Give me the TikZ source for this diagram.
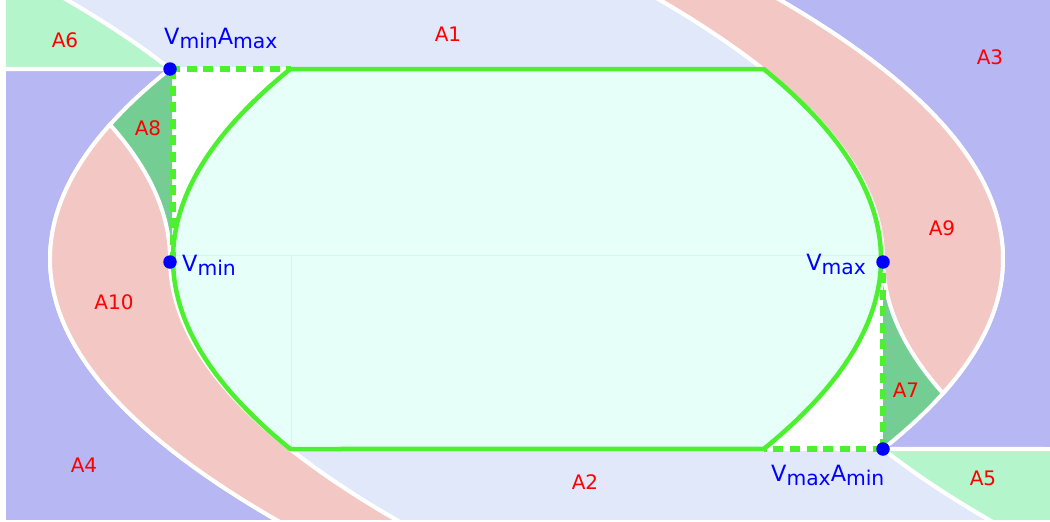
\documentclass[tikz,border=0pt]{standalone}
\usepackage{fontspec}
\setmainfont{DejaVu Sans}
\definecolor{lblue}{HTML}{E0E8FA}
\definecolor{purp}{HTML}{B7B7F4}
\definecolor{mint}{HTML}{B4F5CC}
\definecolor{mgreen}{HTML}{74CD92}
\definecolor{pinkr}{HTML}{F3C7C3}
\definecolor{cyanf}{HTML}{E6FFF8}
\definecolor{gline}{HTML}{4CF02E}
\definecolor{faintc}{HTML}{D2F8EC}
\newcommand\lsub[1]{\raisebox{-4pt}{\fontsize{20.3}{22}\selectfont #1}}
\begin{document}
\begin{tikzpicture}[x=1pt,y=-1pt,
  region/.style={fill=#1,draw=white,line width=4pt},
  rlabel/.style={text=red,font=\fontsize{20}{22}\selectfont,inner sep=0pt},
  blabel/.style={text=blue,font=\fontsize{22.4}{24}\selectfont,inner sep=0pt},
  vdot/.style={circle,fill=blue,inner sep=0pt,minimum size=13.5pt},
  limitline/.style={draw=gline,line width=6pt,dash pattern=on 10pt off 6.6pt},
  shapeline/.style={draw=gline,line width=4.5pt,line join=round}
]
\useasboundingbox (0,0) rectangle (1050,522);
\begin{scope}
\clip (6,0) rectangle (1050,519.5);
% A7 and A8 (fill only)
\fill[mgreen] (883,259) -- (883,449) -- plot[domain=-1.9:-1.343,samples=20] ({883+33.24*(3.61-\x*\x)},{259-100*\x}) -- plot[domain=-1.343:0,samples=30] ({883+33.24*\x*\x},{259-100*\x}) -- cycle;
\fill[mgreen] (172,259) -- (172,69) -- (170,69) -- plot[domain=1.9:1.343,samples=20] ({170-33.24*(3.61-\x*\x)},{259-100*\x}) -- plot[domain=1.343:0,samples=30] ({170-33.24*\x*\x},{259-100*\x}) -- cycle;
% A1
\path[region=lblue] plot[domain=1.9:2.7,samples=20] ({170-33.24*(\x*\x-3.61)},{259-100*\x}) -- plot[domain=2.7:1.9,samples=30] ({883-33.24*\x*\x},{259-100*\x}) -- cycle;
% A2
\path[region=lblue] plot[domain=-1.9:-2.7,samples=30] ({170+33.24*\x*\x},{259-100*\x}) -- plot[domain=-2.7:-1.9,samples=20] ({883+33.24*(\x*\x-3.61)},{259-100*\x}) -- cycle;
% A3
\path[region=purp] plot[domain=2.7:-1.9,samples=60] ({883+33.24*(3.61-\x*\x)},{259-100*\x}) -- (1060,449) -- (1060,-11) -- cycle;
% A4
\path[region=purp] (-4,69) -- (170,69) -- plot[domain=1.9:-2.7,samples=60] ({170-33.24*(3.61-\x*\x)},{259-100*\x}) -- (-4,529) -- cycle;
% A5
\path[region=mint] (883,449) -- plot[domain=-1.9:-2.7,samples=20] ({883+33.24*(\x*\x-3.61)},{259-100*\x}) -- (1060,529) -- (1060,449) -- cycle;
% A6
\path[region=mint] (-4,-11) -- plot[domain=2.7:1.9,samples=20] ({170-33.24*(\x*\x-3.61)},{259-100*\x}) -- (-4,69) -- cycle;
% A9
\path[region=pinkr] plot[domain=2.7:-1.343,samples=80] ({883-33.24*\x*abs(\x)},{259-100*\x}) -- plot[domain=-1.343:2.7,samples=80] ({883+33.24*(3.61-\x*\x)},{259-100*\x}) -- cycle;
% A10
\path[region=pinkr] plot[domain=-2.7:1.343,samples=80] ({170-33.24*\x*abs(\x)},{259-100*\x}) -- plot[domain=1.343:-2.7,samples=80] ({170-33.24*(3.61-\x*\x)},{259-100*\x}) -- cycle;
% feasible shape
\path[fill=cyanf] (291,69) -- (764,69) -- plot[domain=1.9:-1.9,samples=80] ({881-32.5*\x*\x},{259-100*\x}) -- (291,449) -- plot[domain=-1.9:1.9,samples=80] ({173+32.5*\x*\x},{259-100*\x}) -- cycle;
\draw[faintc,line width=1pt] (174,255) -- (880,255) (291,255) -- (291,448);
\path[shapeline] (291,69) -- (764,69) -- plot[domain=1.9:-1.9,samples=80] ({881-32.5*\x*\x},{259-100*\x}) -- (291,449) -- plot[domain=-1.9:1.9,samples=80] ({173+32.5*\x*\x},{259-100*\x}) -- cycle;
\end{scope}
% limit lines
\coordinate (tlH) at (170,69);
\coordinate (tlHe) at (291,69);
\coordinate (tlV) at (172.5,69);
\coordinate (tlVe) at (172.5,259);
\coordinate (brH) at (883,449);
\coordinate (brHe) at (764,449);
\coordinate (brVe) at (883,259);
\draw[limitline] (tlH) -- (tlHe);
\draw[limitline] (tlV) -- (tlVe);
\draw[limitline] (brH) -- (brHe);
\draw[limitline] (brH) -- (brVe);
% dots
\node[vdot] (VminAmax) at (170,69) {};
\node[vdot] (Vmin) at (170,262) {};
\node[vdot] (Vmax) at (883,262) {};
\node[vdot] (VmaxAmin) at (883,449) {};
% labels
\node[blabel,anchor=base west] (lVminAmax) at (164,44) {V\lsub{min}A\lsub{max}};
\node[blabel,anchor=base west] (lVmin) at (182,271) {V\lsub{min}};
\node[blabel,anchor=base east] (lVmax) at (866,270) {V\lsub{max}};
\node[blabel,anchor=base west] (lVmaxAmin) at (771,481) {V\lsub{max}A\lsub{min}};
\node[rlabel] (lA1) at (448,34) {A1};
\node[rlabel] (lA2) at (585,482) {A2};
\node[rlabel] (lA3) at (990,57) {A3};
\node[rlabel] (lA4) at (84,465) {A4};
\node[rlabel] (lA5) at (983,478) {A5};
\node[rlabel] (lA6) at (65,40) {A6};
\node[rlabel] (lA7) at (906,390) {A7};
\node[rlabel] (lA8) at (148,128) {A8};
\node[rlabel] (lA9) at (942,228) {A9};
\node[rlabel] (lA10) at (114,302) {A10};
\end{tikzpicture}
\end{document}
